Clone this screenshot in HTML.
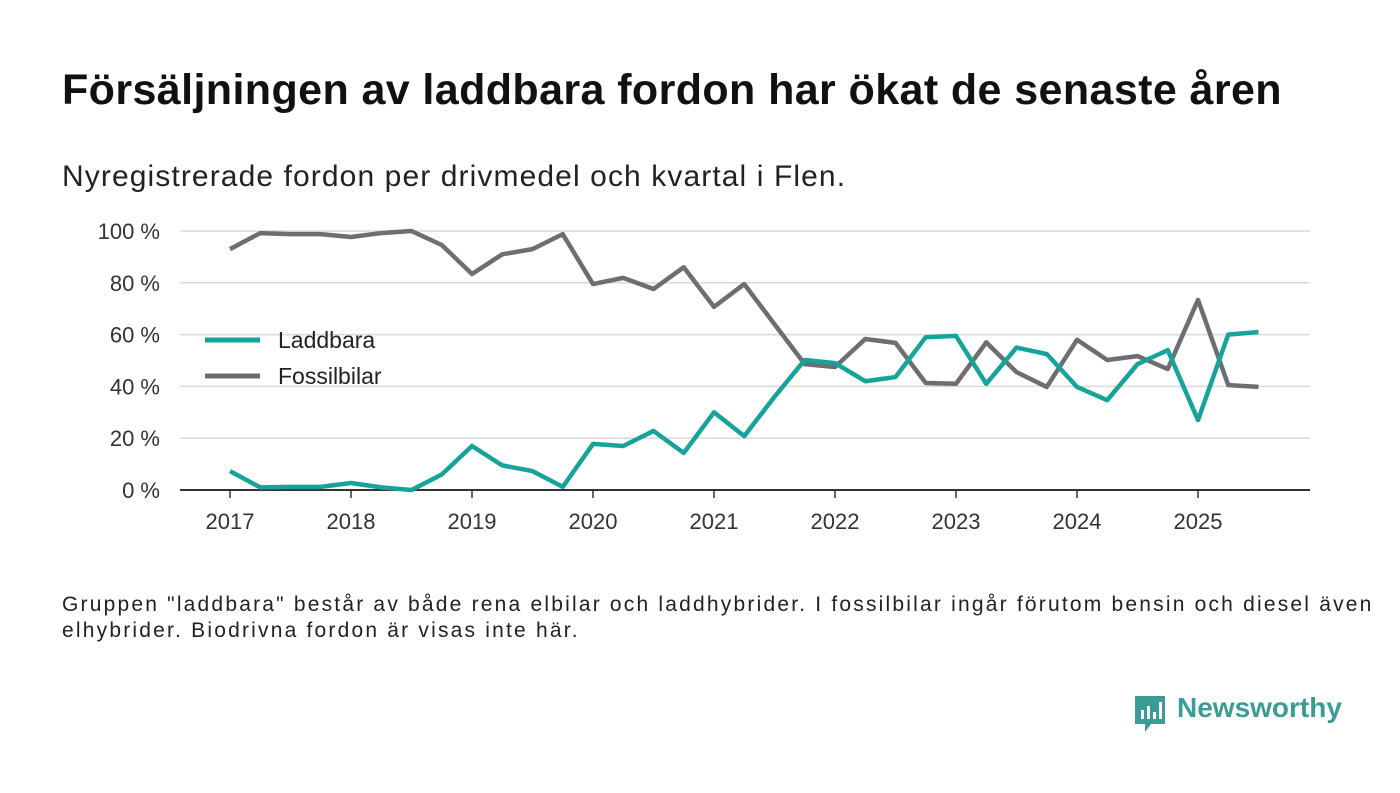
<!DOCTYPE html>
<html><head><meta charset="utf-8"><style>
body{margin:0;width:1400px;height:793px;background:#fff;font-family:"Liberation Sans",sans-serif;overflow:hidden;position:relative}
h1{position:absolute;left:62px;top:66px;margin:0;font-size:43px;font-weight:bold;color:#111;letter-spacing:0.4px;white-space:nowrap}
.sub{position:absolute;left:62px;top:160px;font-size:30px;color:#222;letter-spacing:1.1px;white-space:nowrap}
.note{position:absolute;left:62px;top:592px;font-size:21px;color:#222;line-height:26px;letter-spacing:2.2px;white-space:nowrap}
</style></head><body>
<h1>Försäljningen av laddbara fordon har ökat de senaste åren</h1>
<div class="sub">Nyregistrerade fordon per drivmedel och kvartal i Flen.</div>
<svg id="chart" width="1400" height="793" style="position:absolute;left:0;top:0"></svg>
<div class="note">Gruppen "laddbara" består av både rena elbilar och laddhybrider. I fossilbilar ingår förutom bensin och diesel även<br>elhybrider. Biodrivna fordon är visas inte här.</div>
<div style="position:absolute;left:1133px;top:692px;width:220px;height:42px">
<svg width="34" height="42" style="position:absolute;left:0;top:2px"><path d="M2 2h30v28H18l-6 8v-8H2z" fill="#3b9b95"/><rect x="8" y="16" width="3" height="9" fill="#fff"/><rect x="14" y="12" width="3" height="13" fill="#fff"/><rect x="20" y="18" width="3" height="7" fill="#fff"/><rect x="26" y="8" width="3" height="17" fill="#fff"/></svg>
<span style="position:absolute;left:44px;top:0;font-size:28px;font-weight:bold;color:#3b9b95">Newsworthy</span></div>
<script>
const years=["2017","2018","2019","2020","2021","2022","2023","2024","2025"];
const yTicks=[0,20,40,60,80,100];
const laddbara=[7.3,1,1.2,1.2,2.7,1,0,6,17,9.5,7.3,1.2,17.8,17,22.8,14.3,30,20.8,36,50.2,49,42,43.6,59,59.5,41,55,52.5,39.8,34.7,48.6,54,27,60,61];
const fossil=[93,99.2,98.8,98.8,97.7,99.2,100,94.6,83.4,91,93,98.8,79.5,81.9,77.6,86,70.7,79.5,64,48.6,47.5,58.3,56.8,41.3,41,57,45.5,39.8,58,50.2,51.7,46.7,73.4,40.5,39.8];
const svg=document.getElementById('chart');const NS='http://www.w3.org/2000/svg';
const x=i=>230+i*30.25, y=v=>490-v*2.59;
function mk(t,a,p){const e=document.createElementNS(NS,t);for(const k in a)e.setAttribute(k,a[k]);(p||svg).appendChild(e);return e;}
yTicks.forEach(v=>{
 const l=mk('line',{x1:180,x2:1310,y1:y(v),y2:y(v),stroke:v?'#d9d9d9':'#333','stroke-width':v?1.5:2});
 
 
 const t=mk('text',{x:160,y:y(v)+8,'text-anchor':'end','font-size':22,fill:'#333','font-family':'Liberation Sans'});t.textContent=v+' %';
 
 
});
years.forEach((yr,k)=>{
 const xx=x(k*4);
 const tk=mk('line',{x1:xx,x2:xx,y1:490,y2:498,stroke:'#333','stroke-width':1.5});
 
 
 const t=mk('text',{x:xx,y:529,'text-anchor':'middle','font-size':22,fill:'#333','font-family':'Liberation Sans'});t.textContent=yr;
 
 
});
function line(d,c,n){const p=mk('polyline',{points:d.map((v,i)=>x(i)+','+y(v)).join(' '),fill:'none',stroke:c,'stroke-width':4.5,'stroke-linejoin':'round'});
 
 }
line(fossil,'#6e6d73','fossilbilar-line');
line(laddbara,'#16a39a','laddbara-line');
[['Laddbara','#16a39a',340],['Fossilbilar','#6e6d73',376]].forEach(([n,c,yy])=>{
 const g=mk('g',{});
 
 
 mk('line',{x1:205,x2:260,y1:yy,y2:yy,stroke:c,'stroke-width':5},g);
 const t=mk('text',{x:278,y:yy+8,'font-size':23,fill:'#222','font-family':'Liberation Sans'},g);t.textContent=n;
});
</script>
</body></html>
